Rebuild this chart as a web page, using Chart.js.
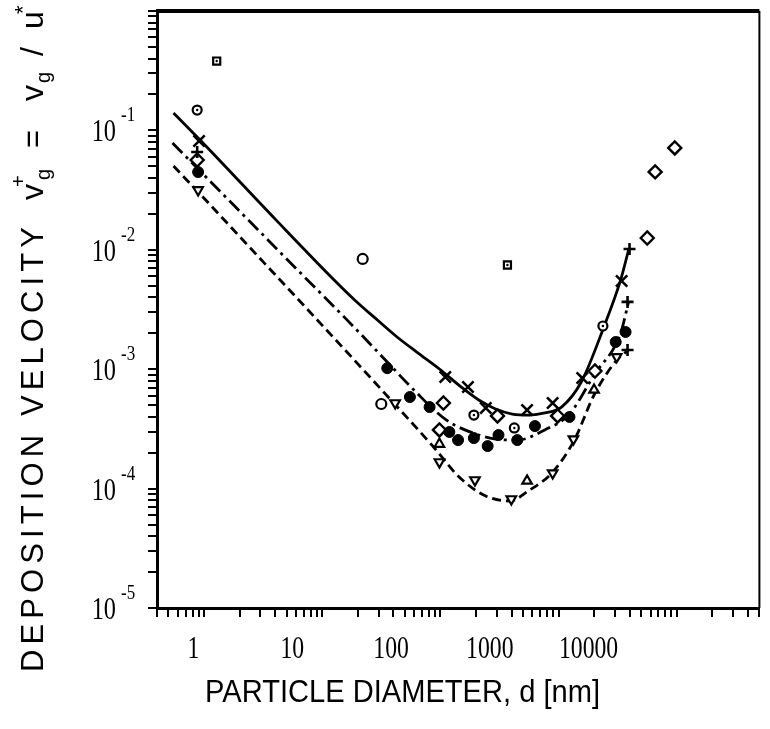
<!DOCTYPE html>
<html>
<head>
<meta charset="utf-8">
<script src="https://cdn.jsdelivr.net/npm/chart.js@4.4.1/dist/chart.umd.min.js"></script>
<style>
  body { margin: 0; background: #fff; }
  #wrap { width: 770px; height: 729px; }
</style>
</head>
<body>
<div id="wrap"><canvas id="chart" width="770" height="729"></canvas></div>
<script>
// particle diameter d [nm] and deposition velocity v_g+
const squareD = [1.28, 369];
const squareV = [0.381, 0.00746];
const dotCircleD = [0.875, 192, 422, 2371];
const dotCircleV = [0.148, 0.000413, 0.000322, 0.0023];
const openCircleD = [22.0, 31.6];
const openCircleV = [0.00838, 0.000511];
const crossD = [0.908, 110, 171, 242, 541, 891, 1585, 3415];
const crossV = [0.0815, 0.000861, 0.00071, 0.000473, 0.000455, 0.000521, 0.000844, 0.00548];
const plusD = [0.875, 3981, 3831, 3831];
const plusV = [0.0659, 0.01016, 0.00366, 0.00145];
const dotD = [0.891, 35.5, 55.2, 81.0, 119, 141, 192, 251, 310, 447, 631, 1236, 3041, 3687];
const dotV = [0.0448, 0.00102, 0.000585, 0.000482, 0.000298, 0.000255, 0.000265, 0.000227, 0.000281, 0.000255, 0.000334, 0.000398, 0.00169, 0.00205];
const diamondD = [0.875, 106, 98.1, 304, 981, 2032, 5623, 6561, 9616];
const diamondV = [0.0565, 0.000521, 0.00031, 0.000406, 0.000406, 0.000966, 0.01256, 0.0449, 0.0713];
const triUpD = [98.1, 541, 1995];
const triUpV = [0.000236, 0.000116, 0.00067];
const triDownD = [0.891, 41.4, 98.1, 196, 398, 891, 1334, 3100];
const triDownV = [0.0317, 0.000521, 0.000167, 0.000118, 0.0000818, 0.000135, 0.00026, 0.00127];

// fitted curves
const solidD = [0.552, 0.926, 4.06, 11.9, 18.8, 29.3, 43.0, 63.1, 98.1, 149.6, 211, 293, 406, 573, 764, 1059, 1555, 2417, 3350, 3908];
const solidV = [0.14, 0.0831, 0.0178, 0.00592, 0.0038, 0.00258, 0.00186, 0.00139, 0.001004, 0.00071, 0.000552, 0.000464, 0.000421, 0.000413, 0.00043, 0.000482, 0.000781, 0.00226, 0.00559, 0.00996];
const dashDotD = [0.541, 0.926, 2.42, 6.31, 15.6, 35.5, 59.6, 112, 211, 293, 447, 764, 1236, 1995, 3350, 3908];
const dashDotV = [0.0784, 0.0457, 0.0174, 0.00664, 0.00269, 0.00115, 0.00067, 0.000376, 0.000281, 0.00026, 0.000255, 0.00031, 0.000421, 0.000894, 0.00201, 0.00366];
const dashedD = [0.552, 0.926, 2.42, 8.75, 35.5, 87.5, 144, 242, 391, 552, 875, 1359, 1995, 3100, 3908];
const dashedV = [0.0503, 0.0293, 0.01055, 0.00269, 0.000597, 0.000223, 0.000125, 0.0000867, 0.0000787, 0.0000955, 0.000135, 0.000255, 0.000608, 0.00119, 0.00145];

// axes
const X_MIN = 0.4, X_MAX = 50000;
const Y_MIN = 1e-5, Y_MAX = 1;
const X_LABELS = [1, 10, 100, 1000, 10000];
const Y_EXPONENTS = [-1, -2, -3, -4, -5];

function logTicks(lo, hi) {
  const out = [];
  for (let e = Math.floor(Math.log10(lo)); e <= Math.ceil(Math.log10(hi)); e++) {
    for (let k = 1; k <= 9; k++) {
      const v = +(k * Math.pow(10, e)).toPrecision(3);
      if (v >= lo * 0.999 && v <= hi * 1.001) out.push(v);
    }
  }
  return out;
}

const pts = (xs, ys) => xs.map((x, i) => ({ x: x, y: ys[i] }));

function marker(xs, ys, style, r, fill, extra) {
  return Object.assign({
    data: pts(xs, ys), showLine: false, pointStyle: style, pointRadius: r,
    pointBorderColor: '#000', pointBackgroundColor: fill, pointBorderWidth: 2.2
  }, extra || {});
}

function curve(xs, ys, dash) {
  return {
    data: pts(xs, ys), showLine: true, pointRadius: 0, borderColor: '#000',
    borderWidth: 2.8, borderDash: dash, cubicInterpolationMode: 'monotone', fill: false
  };
}

const TITLE_FONT = '"Liberation Sans", Arial, sans-serif';
const NUM_FONT = '"Liberation Serif", "Times New Roman", serif';

function drawSpaced(ctx, text, x, y, font, width) {
  ctx.font = font;
  ctx.letterSpacing = '0px';
  const w = ctx.measureText(text).width;
  ctx.letterSpacing = ((width - w) / Math.max(1, text.length - 1)) + 'px';
  ctx.fillText(text, x, y);
  ctx.letterSpacing = '0px';
}

function drawFitted(ctx, text, x, y, font, width) {
  ctx.save();
  ctx.font = font;
  const w = ctx.measureText(text).width;
  ctx.translate(x, y);
  ctx.scale(width / w, 1);
  ctx.fillText(text, 0, 0);
  ctx.restore();
}

function drawCondensed(ctx, text, x, y, font, sx, align) {
  ctx.save();
  ctx.font = font;
  ctx.textAlign = align;
  ctx.translate(x, y);
  ctx.scale(sx, 1);
  ctx.fillText(text, 0, 0);
  ctx.restore();
}

const decor = {
  id: 'decor',
  afterDraw(chart) {
    const { ctx, chartArea: a, scales } = chart;
    ctx.save();
    ctx.strokeStyle = '#000';
    ctx.fillStyle = '#000';
    // top and right edges of the frame
    ctx.lineWidth = 4;
    ctx.beginPath(); ctx.moveTo(a.left - 1, a.top); ctx.lineTo(a.right, a.top); ctx.stroke();
    ctx.lineWidth = 2;
    ctx.beginPath(); ctx.moveTo(a.right, a.top); ctx.lineTo(a.right, a.bottom); ctx.stroke();

    // y tick labels 10^-n
    ctx.textBaseline = 'alphabetic';
    Y_EXPONENTS.forEach(e => {
      const py = scales.y.getPixelForValue(Math.pow(10, e));
      drawCondensed(ctx, '10', 116, py + 11, '32px ' + NUM_FONT, 0.76, 'right');
      drawCondensed(ctx, '-' + Math.abs(e), 121, py - 9, '20px ' + NUM_FONT, 0.85, 'left');
    });

    // x tick labels (placed as in the original, offset from the ticks)
    X_LABELS.forEach(v => {
      const px = scales.xl.getPixelForValue(v);
      drawCondensed(ctx, String(v), px, 658, '32px ' + NUM_FONT, 0.74, 'center');
    });

    // x title
    ctx.textAlign = 'left';
    drawFitted(ctx, 'PARTICLE DIAMETER, d [nm]', 205, 702, '32px ' + TITLE_FONT, 395);

    // y title, rotated
    ctx.save();
    ctx.translate(43, 672);
    ctx.rotate(-Math.PI / 2);
    ctx.textAlign = 'left';
    drawSpaced(ctx, 'DEPOSITION VELOCITY', 0, 0, '31px ' + TITLE_FONT, 445);
    ctx.font = '32px ' + TITLE_FONT;
    ctx.fillText('v', 472, 0);
    ctx.font = '20px ' + TITLE_FONT;
    ctx.fillText('+', 485, -18);
    ctx.fillText('g', 492, 7);
    ctx.font = '31px ' + TITLE_FONT;
    ctx.fillText('=', 524, 0);
    ctx.font = '32px ' + TITLE_FONT;
    ctx.fillText('v', 571, 0);
    ctx.font = '20px ' + TITLE_FONT;
    ctx.fillText('g', 589, 7);
    ctx.font = '32px ' + TITLE_FONT;
    ctx.fillText('/', 616, 0);
    ctx.fillText('u', 643, 0);
    ctx.font = '22px ' + TITLE_FONT;
    ctx.fillText('*', 658, -13);
    ctx.restore();

    ctx.restore();
  }
};

new Chart(document.getElementById('chart'), {
  type: 'scatter',
  data: {
    datasets: [
      marker(squareD, squareV, 'circle', 1.2, '#000', { pointBorderWidth: 0 }),
      marker(dotCircleD, dotCircleV, 'circle', 1.2, '#000', { pointBorderWidth: 0 }),
      marker(squareD, squareV, 'rect', 5, '#fff'),
      marker(dotCircleD, dotCircleV, 'circle', 4.5, '#fff'),
      marker(openCircleD, openCircleV, 'circle', 5, '#fff'),
      marker(crossD, crossV, 'crossRot', 8, '#000', { pointBorderWidth: 2.6 }),
      marker(plusD, plusV, 'cross', 6, '#000', { pointBorderWidth: 2.6 }),
      marker(dotD, dotV, 'circle', 5.5, '#000', { pointBorderWidth: 1 }),
      marker(diamondD, diamondV, 'rectRot', 6.5, '#fff', { pointBorderWidth: 2.4 }),
      marker(triUpD, triUpV, 'triangle', 5.5, '#fff'),
      marker(triDownD, triDownV, 'triangle', 5.5, '#fff', { pointRotation: 180 }),
      curve(solidD, solidV, []),
      curve(dashDotD, dashDotV, [14, 5, 3, 5]),
      curve(dashedD, dashedV, [9, 5])
    ]
  },
  options: {
    responsive: false,
    animation: false,
    events: [],
    layout: { padding: { top: 11, right: 3, left: 0, bottom: 0 } },
    plugins: { legend: { display: false }, tooltip: { enabled: false } },
    scales: {
      x: {
        type: 'logarithmic', position: 'bottom', min: X_MIN, max: X_MAX,
        afterBuildTicks: s => { s.ticks = logTicks(X_MIN, X_MAX).map(v => ({ value: v })); },
        afterFit: s => { s.height = 121; },
        ticks: { display: false, autoSkip: false },
        grid: { drawOnChartArea: false, drawTicks: true, tickLength: 9, color: '#000', lineWidth: 2 },
        border: { display: true, color: '#000', width: 3 }
      },
      xl: {
        type: 'logarithmic', position: 'bottom', display: false, min: 0.4266, max: 537032
      },
      y: {
        type: 'logarithmic', position: 'left', min: Y_MIN, max: Y_MAX,
        afterBuildTicks: s => { s.ticks = logTicks(Y_MIN, Y_MAX).map(v => ({ value: v })); },
        afterFit: s => { s.width = 157; },
        ticks: { display: false, autoSkip: false },
        grid: { drawOnChartArea: false, drawTicks: true, tickLength: 9, color: '#000', lineWidth: 2 },
        border: { display: true, color: '#000', width: 3 }
      }
    }
  },
  plugins: [decor]
});
</script>
</body>
</html>
